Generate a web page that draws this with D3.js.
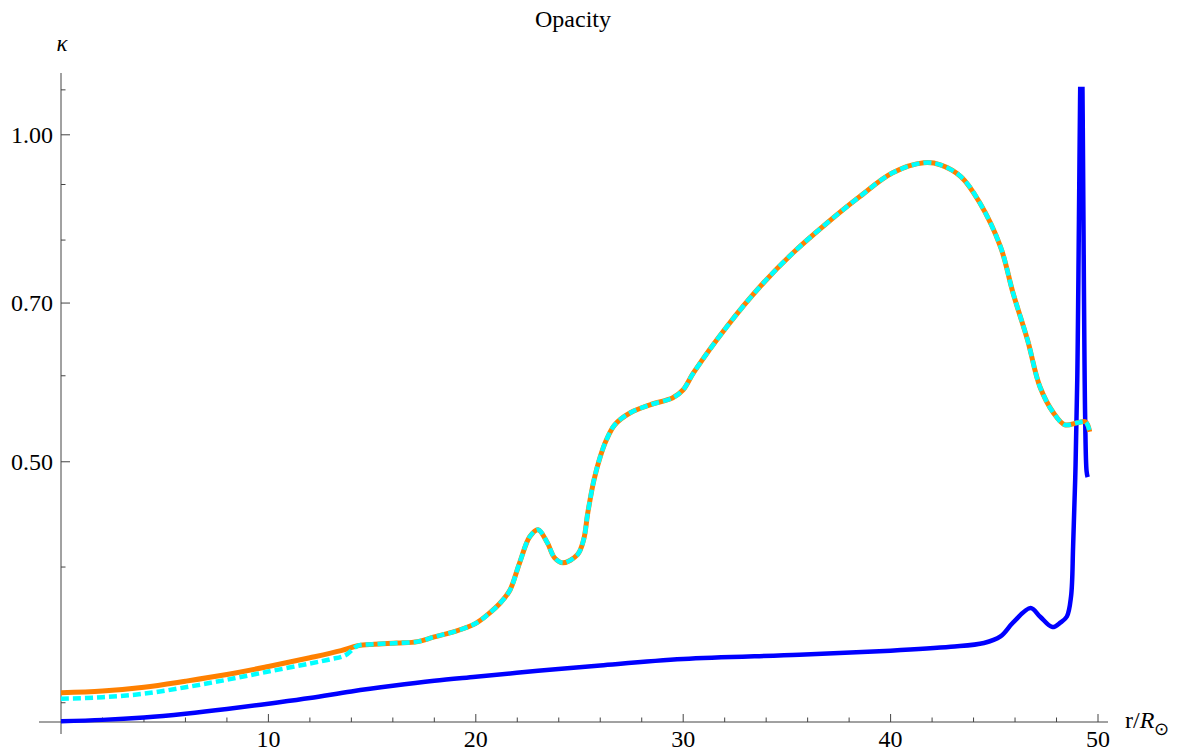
<!DOCTYPE html>
<html>

<head>
	<meta charset="utf-8">
    <script src="https://d3js.org/d3.v7.min.js"></script>
    <style>
        body { margin: 0; background: #fff; }
        text { font-family: "Liberation Serif", "Times New Roman", serif; }
    </style>
    <script>
        // values (r in solar radii, kappa)
        let rBlue = [0, 2, 4, 6, 8, 10, 12, 14, 16, 18, 20, 23, 26, 30, 35.6, 40, 42.9, 44.5, 45.3, 45.9,
            46.75, 47.2, 47.8, 48.2, 48.5, 48.7, 48.8, 48.9, 49.0, 49.2, 49.38, 49.45, 49.5];
        let kBlue = [0.2885, 0.2893, 0.2908, 0.2931, 0.2960, 0.2994, 0.3030, 0.3073, 0.3110, 0.3143, 0.3170,
            0.3210, 0.3247, 0.3291, 0.3321, 0.3350, 0.3378, 0.3405, 0.3453, 0.3555, 0.3667, 0.3602, 0.3522,
            0.3557, 0.3602, 0.3758, 0.4179, 0.4813, 0.5950, 1.25, 0.55, 0.49, 0.484];

        let rOrange = [0, 2, 4, 6, 8, 10, 12, 13.5, 14.3, 15.1, 16.2, 17.2, 18, 19, 20,
            20.6, 21.2, 21.65, 22.1, 22.6, 23.0, 23.45, 23.8, 24.2, 24.9, 25.2, 25.4, 25.7, 26.0, 26.3, 26.7,
            27.45, 28.4, 29.5, 30.0, 30.5, 32.1, 33.7, 35.3, 36.95, 38.5, 40.1, 41.6, 42.4, 43.4, 44.3, 45.3,
            45.9, 46.6, 47.2, 47.85, 48.4, 49.0, 49.4, 49.6];
        let kOrange = [0.3064, 0.3075, 0.3100, 0.3140, 0.3185, 0.3240, 0.3300, 0.3350, 0.3385,
            0.3396, 0.3405, 0.3415, 0.3450, 0.3490, 0.3550, 0.3620, 0.3710, 0.3810, 0.4030, 0.4265, 0.4329,
            0.4211, 0.4079, 0.4036, 0.4106, 0.4239, 0.4488, 0.4813, 0.5054, 0.5239, 0.5408, 0.5548, 0.5642,
            0.5727, 0.5825, 0.6039, 0.6657, 0.7246, 0.7787, 0.8299, 0.8769, 0.9226, 0.9424, 0.9384, 0.9148,
            0.8658, 0.7887, 0.7154, 0.6476, 0.5862, 0.5548, 0.5408, 0.5431, 0.5442, 0.5329];

        let rCyan = [0, 2, 4, 6, 8, 10, 12, 13.0, 13.7, 14.3, 15.1, 16.2, 17.2, 18, 19, 20,
            20.6, 21.2, 21.65, 22.1, 22.6, 23.0, 23.45, 23.8, 24.2, 24.9, 25.2, 25.4, 25.7, 26.0, 26.3, 26.7,
            27.45, 28.4, 29.5, 30.0, 30.5, 32.1, 33.7, 35.3, 36.95, 38.5, 40.1, 41.6, 42.4, 43.4, 44.3, 45.3,
            45.9, 46.6, 47.2, 47.85, 48.4, 49.0, 49.4, 49.6];
        let kCyan = [0.3026, 0.3035, 0.3058, 0.3100, 0.3150, 0.3205, 0.3260, 0.3290, 0.3317, 0.3385,
            0.3396, 0.3405, 0.3415, 0.3450, 0.3490, 0.3550, 0.3620, 0.3710, 0.3810, 0.4030, 0.4265, 0.4329,
            0.4211, 0.4079, 0.4036, 0.4106, 0.4239, 0.4488, 0.4813, 0.5054, 0.5239, 0.5408, 0.5548, 0.5642,
            0.5727, 0.5825, 0.6039, 0.6657, 0.7246, 0.7787, 0.8299, 0.8769, 0.9226, 0.9424, 0.9384, 0.9148,
            0.8658, 0.7887, 0.7154, 0.6476, 0.5862, 0.5548, 0.5408, 0.5431, 0.5442, 0.5329];

        let xMajor = [10, 20, 30, 40, 50];
        let xMinor = [2, 4, 6, 8, 12, 14, 16, 18, 22, 24, 26, 28, 32, 34, 36, 38, 42, 44, 46, 48];
        let yMajor = [0.5, 0.7, 1.0];
        let yMajorLabels = ["0.50", "0.70", "1.00"];
        let yMinor = [0.3, 0.4, 0.6, 0.8, 0.9, 1.1];

        function draw() {

            let width = 1183,
            height = 753;

            let svg = d3.select("body").append("svg")
                .attr("width", width)
                .attr("height", height);

            let x = d3.scaleLinear().domain([0, 50]).range([61, 1098]);
            let y = d3.scaleLog().domain([0.288, 1.14]).range([722, 73]);

            // plot range top (spike gets cut here)
            let yTop = y(1.107);

            svg.append("defs").append("clipPath").attr("id", "clip")
                .append("rect")
                    .attr("x", x(0) - 5).attr("y", yTop)
                    .attr("width", x(50) + 20 - x(0)).attr("height", y(0.288) + 10 - yTop);

            // Axes lines
            let axisCol = "#444";
            svg.append("line")
                .attr("x1", x(0) - 22).attr("x2", x(50) + 10)
                .attr("y1", y(0.288)).attr("y2", y(0.288))
                .style("stroke", axisCol).style("stroke-width", 1);
            svg.append("line")
                .attr("x1", x(0)).attr("x2", x(0))
                .attr("y1", y(1.14)).attr("y2", y(0.288) + 12)
                .style("stroke", axisCol).style("stroke-width", 1);

            // x ticks
            svg.selectAll(".xmaj").data(xMajor).join("line")
                .attr("x1", d => x(d)).attr("x2", d => x(d))
                .attr("y1", y(0.288)).attr("y2", y(0.288) - 8)
                .style("stroke", axisCol);
            svg.selectAll(".xmin").data(xMinor).join("line")
                .attr("x1", d => x(d)).attr("x2", d => x(d))
                .attr("y1", y(0.288)).attr("y2", y(0.288) - 4.5)
                .style("stroke", axisCol);
            svg.selectAll(".xlab").data(xMajor).join("text")
                .attr("x", d => x(d)).attr("y", y(0.288) + 25)
                .attr("text-anchor", "middle")
                .style("font-size", "24px")
                .text(d => d);

            // y ticks
            svg.selectAll(".ymaj").data(yMajor).join("line")
                .attr("x1", x(0)).attr("x2", x(0) + 9)
                .attr("y1", d => y(d)).attr("y2", d => y(d))
                .style("stroke", axisCol);
            svg.selectAll(".ymin").data(yMinor).join("line")
                .attr("x1", x(0)).attr("x2", x(0) + 4.5)
                .attr("y1", d => y(d)).attr("y2", d => y(d))
                .style("stroke", axisCol);
            svg.selectAll(".ylab").data(yMajor).join("text")
                .attr("x", x(0) - 8).attr("y", d => y(d))
                .attr("dy", "0.34em")
                .attr("text-anchor", "end")
                .style("font-size", "24px")
                .text((d, i) => yMajorLabels[i]);

            // Lines
            let line = d3.line()
                .x(d => x(d[0]))
                .y(d => y(d[1]))
                .curve(d3.curveCatmullRom.alpha(0.5));

            let g = svg.append("g").attr("clip-path", "url(#clip)");

            g.append("path")
                .datum(d3.zip(rBlue, kBlue))
                .attr("d", line)
                .style("fill", "none")
                .style("stroke", "#0000ff")
                .style("stroke-width", 4.5)
                .style("stroke-linejoin", "round");

            g.append("path")
                .datum(d3.zip(rOrange, kOrange))
                .attr("d", line)
                .style("fill", "none")
                .style("stroke", "#ff8000")
                .style("stroke-width", 5);

            g.append("path")
                .datum(d3.zip(rCyan, kCyan))
                .attr("d", line)
                .style("fill", "none")
                .style("stroke", "#00ffff")
                .style("stroke-width", 4.5)
                .style("stroke-dasharray", "8,4");

            // Title and axis labels
            svg.append("text")
                .attr("x", 573).attr("y", 27)
                .attr("text-anchor", "middle")
                .style("font-size", "24px")
                .text("Opacity");

            svg.append("text")
                .attr("x", x(0) + 1).attr("y", 51)
                .attr("text-anchor", "middle")
                .style("font-size", "23px")
                .style("font-style", "italic")
                .text("κ");

            let xl = svg.append("text")
                .attr("x", 1125).attr("y", 728)
                .style("font-size", "24px");
            xl.append("tspan").text("r/");
            xl.append("tspan").style("font-style", "italic").text("R");
            xl.append("tspan").attr("dy", 7).style("font-size", "18px").text("⊙");
        }
    </script>
</head>
<body>
    <script>
        draw();
    </script>
</body>
</html>
